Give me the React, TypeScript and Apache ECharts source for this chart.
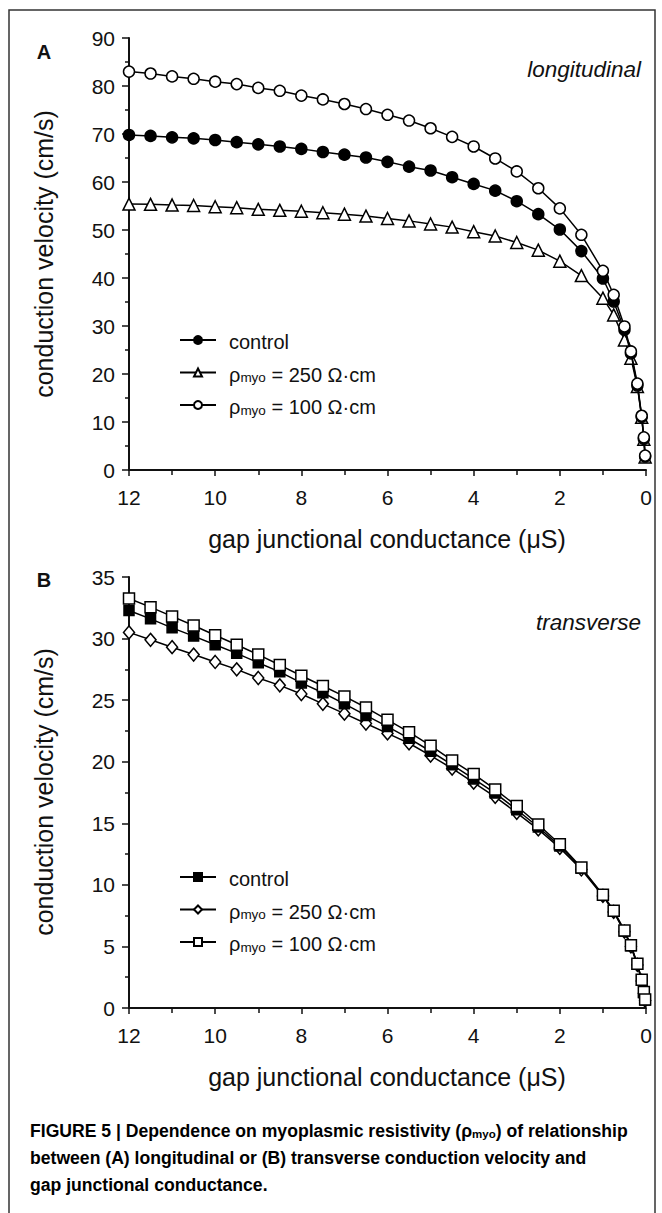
import React, { useEffect, useRef } from "react";
import * as echarts from "echarts";

// gap junctional conductance (µS)
const gj = [12, 11.5, 11, 10.5, 10, 9.5, 9, 8.5, 8, 7.5, 7, 6.5, 6, 5.5, 5, 4.5, 4, 3.5, 3, 2.5, 2, 1.5, 1, 0.75, 0.5, 0.35, 0.2, 0.1, 0.05, 0.02];

// Panel A – longitudinal conduction velocity (cm/s)
const longControl = [69.8, 69.6, 69.3, 69.1, 68.75, 68.3, 67.85, 67.4, 66.9, 66.25, 65.7, 65.1, 64.2, 63.2, 62.4, 61.0, 59.6, 58.2, 56.0, 53.3, 50.1, 45.6, 39.9, 35.1, 29.2, 24.3, 17.6, 11.1, 6.5, 2.8];
const long250 = [55.4, 55.35, 55.2, 55.1, 54.85, 54.65, 54.3, 54.1, 53.9, 53.6, 53.3, 52.9, 52.4, 51.9, 51.25, 50.6, 49.65, 48.75, 47.4, 45.8, 43.5, 40.5, 35.8, 32.3, 27.1, 23.3, 17.4, 11.0, 6.4, 2.7];
const long100 = [83.0, 82.6, 82.0, 81.5, 80.9, 80.4, 79.6, 79.0, 78.0, 77.2, 76.25, 75.2, 74.0, 72.8, 71.2, 69.4, 67.4, 64.9, 62.2, 58.7, 54.5, 49.0, 41.5, 36.5, 29.9, 24.7, 18.0, 11.3, 6.8, 3.0];

// Panel B – transverse conduction velocity (cm/s)
const transControl = [32.28, 31.6, 30.87, 30.2, 29.5, 28.8, 28.04, 27.3, 26.4, 25.6, 24.7, 23.76, 22.85, 21.9, 20.85, 19.75, 18.6, 17.45, 16.1, 14.7, 13.15, 11.35, 9.15, 7.85, 6.25, 5.05, 3.55, 2.25, 1.25, 0.65];
const trans250 = [30.5, 29.9, 29.3, 28.7, 28.1, 27.5, 26.8, 26.2, 25.5, 24.7, 23.9, 23.1, 22.3, 21.5, 20.5, 19.45, 18.3, 17.15, 15.85, 14.5, 13.0, 11.25, 9.1, 7.8, 6.2, 5.0, 3.5, 2.2, 1.2, 0.6];
const trans100 = [33.25, 32.55, 31.8, 31.06, 30.27, 29.5, 28.7, 27.85, 26.98, 26.15, 25.3, 24.4, 23.4, 22.4, 21.3, 20.1, 19.0, 17.75, 16.4, 14.9, 13.3, 11.4, 9.2, 7.9, 6.3, 5.1, 3.6, 2.3, 1.3, 0.7];

const legendLabels: Record<string, string> = {
  "A control": "control",
  "A 250": "ρmyo = 250 Ω·cm",
  "A 100": "ρmyo = 100 Ω·cm",
  "B control": "control",
  "B 250": "ρmyo = 250 Ω·cm",
  "B 100": "ρmyo = 100 Ω·cm",
};

const FONT = '"Liberation Sans", Arial, Helvetica, sans-serif';
const NARROW = '"Liberation Sans Narrow", "Liberation Sans", Arial, sans-serif';
const INK = "#111";

function pairs(xs: number[], ys: number[]) {
  return xs.map((x, i) => [x, ys[i]]);
}

export default function App() {
  const ref = useRef<HTMLDivElement>(null);
  useEffect(() => {
    if (!ref.current) return;
    const chart = echarts.init(ref.current, undefined, { renderer: "svg" });

    const xAxisBase = (gridIndex: number) => ({
      type: "value",
      gridIndex,
      inverse: true,
      min: 0,
      max: 12,
      interval: 2,
      axisLine: { onZero: false, lineStyle: { color: INK, width: 2 } },
      axisTick: { length: 6, lineStyle: { color: INK, width: 1.5 } },
      minorTick: { show: true, splitNumber: 2, length: 5, lineStyle: { color: INK, width: 1.5 } },
      splitLine: { show: false },
      axisLabel: { fontSize: 21, color: INK, margin: 17, fontFamily: FONT },
    });
    const yAxisBase = (gridIndex: number, max: number, interval: number) => ({
      type: "value",
      gridIndex,
      min: 0,
      max,
      interval,
      axisLine: { show: true, onZero: false, lineStyle: { color: INK, width: 2 } },
      axisTick: { show: true, length: 7, lineStyle: { color: INK, width: 1.5 } },
      minorTick: { show: true, splitNumber: 2, length: 4, lineStyle: { color: INK, width: 1.5 } },
      splitLine: { show: false },
      axisLabel: { fontSize: 21, color: INK, margin: 14, fontFamily: FONT },
    });

    const lineSeries = (name: string, xi: number, data: number[], symbol: string, size: any, filled: boolean, z: number) => ({
      name,
      type: "line",
      xAxisIndex: xi,
      yAxisIndex: xi,
      data: pairs(gj, data),
      symbol,
      symbolSize: size,
      showAllSymbol: true,
      z,
      lineStyle: { color: "#000", width: 1.5 },
      itemStyle: { color: filled ? "#000" : "#fff", borderColor: "#000", borderWidth: 1.5 },
      emphasis: { disabled: true },
    });

    const rich = {
      r: { fontSize: 20, fontFamily: FONT, color: INK, lineHeight: 24, verticalAlign: "bottom" },
      s: { fontSize: 13.5, fontFamily: FONT, color: INK, lineHeight: 14, verticalAlign: "bottom" },
    };
    const fmt = (name: string) => {
      const t = legendLabels[name];
      if (t.startsWith("ρmyo")) return "{r|ρ}{s|myo}{r|" + t.slice(4) + "}";
      return "{r|" + t + "}";
    };
    const legendBase = (top: number, data: string[]) => ({
      orient: "vertical",
      left: 174,
      top,
      itemWidth: 36,
      itemHeight: 10,
      itemGap: 12.5,
      selectedMode: false,
      data,
      formatter: fmt,
      textStyle: { fontSize: 20, color: INK, fontFamily: FONT, padding: [0, 0, 0, 8], rich },
    });

    const capRich = {
      b: { fontSize: 17.6, fontWeight: "bold", fontFamily: NARROW, color: INK, lineHeight: 21, verticalAlign: "bottom" },
      bs: { fontSize: 11.5, fontWeight: "bold", fontFamily: NARROW, color: INK, lineHeight: 13, verticalAlign: "bottom" },
    };

    const title = (x: number, y: number, rot: number) => ({
      type: "text",
      x,
      y,
      rotation: rot,
      style: { text: rot ? "conduction velocity (cm/s)" : "gap junctional conductance (μS)", fontSize: 25, fontFamily: FONT, fill: INK, textAlign: "center", textVerticalAlign: "middle" },
    });

    chart.setOption({
      animation: false,
      backgroundColor: "#fff",
      grid: [
        { left: 129, top: 38, width: 517, height: 432 },
        { left: 129, top: 577, width: 517, height: 431 },
      ],
      xAxis: [xAxisBase(0), xAxisBase(1)],
      yAxis: [yAxisBase(0, 90, 10), yAxisBase(1, 35, 5)],
      legend: [
        legendBase(327, ["A control", "A 250", "A 100"]),
        legendBase(864, ["B control", "B 250", "B 100"]),
      ],
      series: [
        lineSeries("A 250", 0, long250, "triangle", 12, false, 2),
        lineSeries("A control", 0, longControl, "circle", 11, true, 3),
        lineSeries("A 100", 0, long100, "circle", 11, false, 4),
        lineSeries("B 250", 1, trans250, "diamond", [11, 13], false, 2),
        lineSeries("B control", 1, transControl, "rect", 10, true, 3),
        lineSeries("B 100", 1, trans100, "rect", 11, false, 4),
      ],
      graphic: [
        { type: "rect", silent: true, z: -1, shape: { x: 9, y: 10, width: 646, height: 1220 }, style: { fill: "none", stroke: "#333", lineWidth: 1.5 } },
        { type: "text", x: 44, y: 52, style: { text: "A", fontSize: 20, fontWeight: "bold", fontFamily: FONT, fill: INK, textAlign: "center", textVerticalAlign: "middle" } },
        { type: "text", x: 44, y: 580, style: { text: "B", fontSize: 20, fontWeight: "bold", fontFamily: FONT, fill: INK, textAlign: "center", textVerticalAlign: "middle" } },
        { type: "text", x: 641, y: 69, style: { text: "longitudinal", fontSize: 22.5, fontStyle: "italic", fontFamily: FONT, fill: INK, textAlign: "right", textVerticalAlign: "middle" } },
        { type: "text", x: 641, y: 622, style: { text: "transverse", fontSize: 22.5, fontStyle: "italic", fontFamily: FONT, fill: INK, textAlign: "right", textVerticalAlign: "middle" } },
        title(387, 539, 0),
        title(387, 1077, 0),
        title(44, 254, Math.PI / 2),
        title(44, 792, Math.PI / 2),
        { type: "text", x: 30, y: 1129, style: { text: "{b|FIGURE 5 | Dependence on myoplasmic resistivity (ρ}{bs|myo}{b|) of relationship}", rich: capRich, textVerticalAlign: "middle" } },
        { type: "text", x: 30, y: 1156, style: { text: "{b|between (A) longitudinal or (B) transverse conduction velocity and}", rich: capRich, textVerticalAlign: "middle" } },
        { type: "text", x: 30, y: 1183, style: { text: "{b|gap junctional conductance.}", rich: capRich, textVerticalAlign: "middle" } },
      ],
    });
    return () => chart.dispose();
  }, []);
  return <div ref={ref} style={{ position: "absolute", left: 0, top: 0, width: 662, height: 1213 }} />;
}
